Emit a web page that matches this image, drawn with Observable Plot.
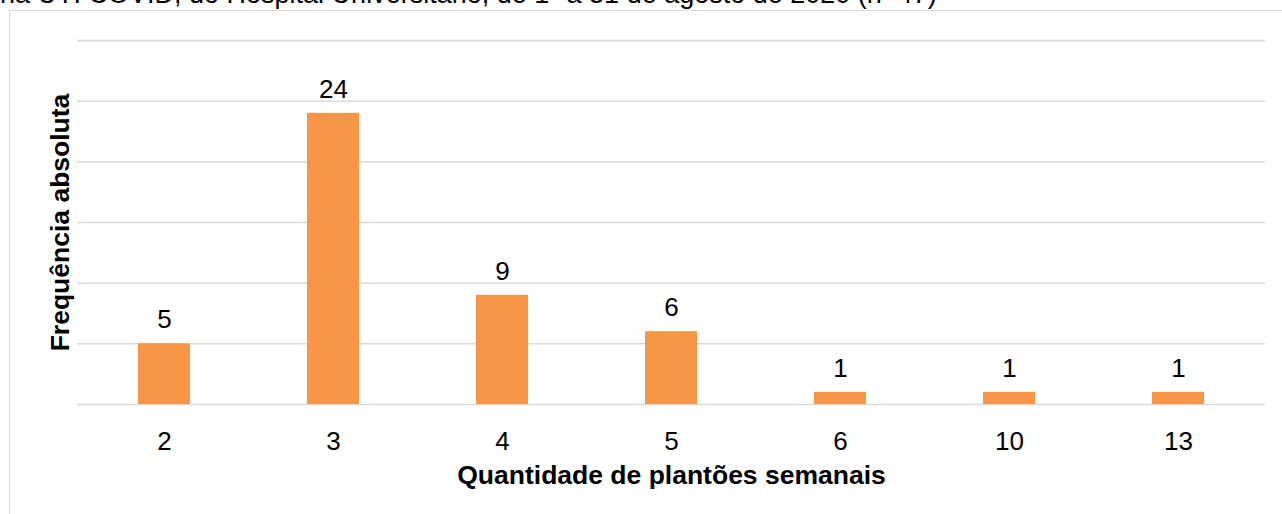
<!DOCTYPE html>
<html>
<head>
<meta charset="utf-8">
<script src="https://cdn.jsdelivr.net/npm/d3@7"></script>
<script src="https://cdn.jsdelivr.net/npm/@observablehq/plot@0.6"></script>
<style>
  html, body { margin: 0; padding: 0; background: #fff; overflow: hidden; }
  body { width: 1282px; height: 514px; position: relative; font-family: "Liberation Sans", Arial, sans-serif; }
  #title { position: absolute; left: 0px; top: -19px; font-size: 27px; line-height: 27px; white-space: nowrap; color: #000; }
  #frame { position: absolute; left: 9px; top: 10px; width: 1400px; height: 700px; border: 1.5px solid #d9d9d9; box-sizing: border-box; }
  #chart { position: absolute; left: 0; top: 0; }
</style>
</head>
<body>
<div id="title">na UTI COVID, do Hospital Universitário, de 1º a 31 de agosto de 2020 (n=47)</div>
<div id="frame"></div>
<div id="chart"></div>
<script>
const categories = ["2", "3", "4", "5", "6", "10", "13"];
const values = [5, 24, 9, 6, 1, 1, 1];
const gridTicks = [0, 5, 10, 15, 20, 25, 30];
const xLabel = "Quantidade de plantões semanais";
const yLabel = "Frequência absoluta";

const data = categories.map((c, i) => ({ cat: c, val: values[i] }));

const chart = Plot.plot({
  width: 1282,
  height: 514,
  marginLeft: 77,
  marginRight: 17,
  marginTop: 40,
  marginBottom: 110,
  style: { fontFamily: '"Liberation Sans", Arial, sans-serif', background: "transparent", overflow: "visible" },
  x: { domain: categories, paddingInner: 0.69, paddingOuter: 0.345, label: null, axis: null },
  y: { domain: [0, 30], label: null, axis: null },
  marks: [
    Plot.ruleY(gridTicks, { stroke: "#d9d9d9", strokeWidth: 1.5 }),
    Plot.barY(data, { x: "cat", y: "val", fill: "#F79646" }),
    Plot.text(data, { x: "cat", y: "val", text: d => String(d.val), dy: -24, lineAnchor: "middle", fontSize: 26, fill: "#000" }),
    Plot.axisX({ tickSize: 0, tickPadding: 27, fontSize: 26, label: null, color: "#000" }),
    Plot.text([xLabel], { frameAnchor: "bottom", dy: 71, lineAnchor: "middle", textAnchor: "middle", fontSize: 26.5, fontWeight: "bold", fill: "#000" }),
    Plot.text([yLabel], { frameAnchor: "left", dx: -17, rotate: -90, lineAnchor: "middle", textAnchor: "middle", fontSize: 26.5, fontWeight: "bold", fill: "#000" })
  ]
});
document.getElementById("chart").appendChild(chart);
</script>
</body>
</html>
